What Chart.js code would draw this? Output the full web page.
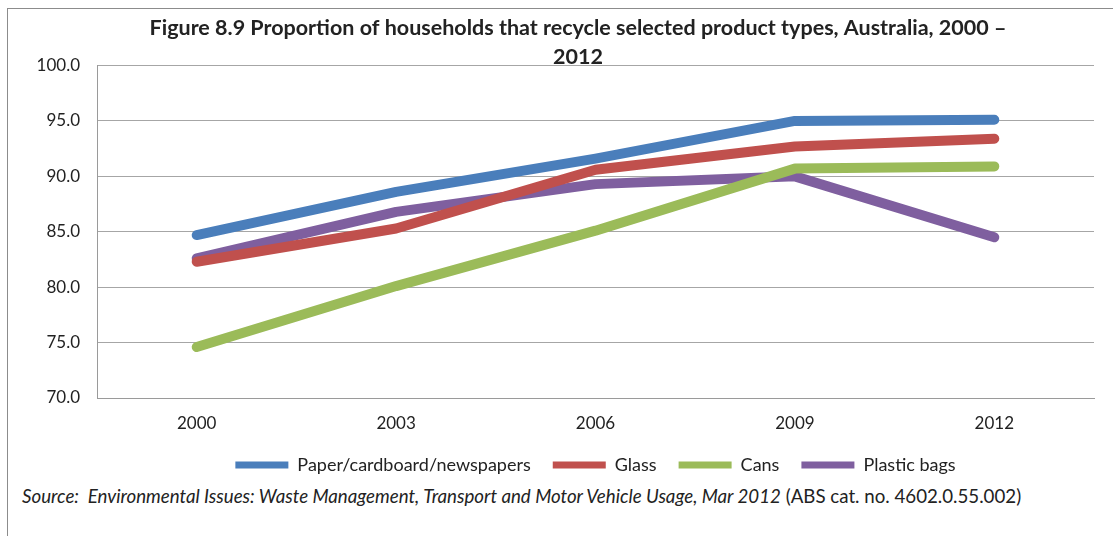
<!DOCTYPE html>
<html>
<head>
<meta charset="utf-8">
<script src="https://cdn.jsdelivr.net/npm/chart.js@4.4.1/dist/chart.umd.min.js"></script>
<style>
  html, body { margin: 0; padding: 0; background: #fff; width: 1113px; height: 536px; overflow: hidden; }
  #frame { position: absolute; left: 7px; top: 8px; width: 1200px; height: 600px; border: 1px solid #8c8c8c; }
  #wrap { position: absolute; left: 8px; top: 9px; width: 1140px; height: 475px; }
  #source { position: absolute; left: 22px; top: 485px; font-family: Lato, sans-serif; font-size: 18.7px; color: #222; white-space: nowrap; }
  #source i { font-style: italic; }
</style>
</head>
<body>
<div id="frame"></div>
<div id="wrap"><canvas id="chart"></canvas></div>
<div id="source"><i>Source:&nbsp; Environmental Issues: Waste Management, Transport and Motor Vehicle Usage, Mar 2012</i> (ABS cat. no. 4602.0.55.002)</div>
<script>
// --- data ---
const years = ['2000', '2003', '2006', '2009', '2012'];
const paper = [84.7, 88.6, 91.6, 95.0, 95.1];
const glass = [82.3, 85.3, 90.6, 92.7, 93.4];
const cans = [74.6, 80.1, 85.1, 90.7, 90.9];
const plasticBags = [82.6, 86.8, 89.3, 90.0, 84.5];
const yTicks = { min: 70, max: 100, step: 5 };

const titleLines = ['Figure 8.9 Proportion of households that recycle selected product types, Australia, 2000 \u2013', '2012'];
const FONT = 'Lato, "Open Sans", sans-serif';

function series(label, data, color) {
    return {
        label, data,
        borderColor: color, backgroundColor: color,
        borderWidth: 10, pointRadius: 0, tension: 0,
        borderCapStyle: 'round', borderJoinStyle: 'round', fill: false
    };
}

const chart = new Chart(document.getElementById('chart'), {
    type: 'line',
    data: {
        labels: years,
        datasets: [
            series('Paper/cardboard/newspapers', paper, '#4a7ebb'),
            series('Glass', glass, '#c0504d'),
            series('Cans', cans, '#9bbb59'),
            series('Plastic bags', plasticBags, '#7f5f9f')
        ]
    },
    options: {
        responsive: true, maintainAspectRatio: false, animation: false,
        devicePixelRatio: 1,
        layout: { padding: 0 },
        scales: {
            x: {
                offset: true,
                grid: { display: false, drawTicks: false },
                border: { display: true, color: '#9a9a9a', width: 1 },
                ticks: { color: '#222', font: { family: FONT, size: 17 }, padding: 15 },
                afterFit: (s) => { s.height = 36; }
            },
            y: {
                min: yTicks.min, max: yTicks.max,
                ticks: {
                    stepSize: yTicks.step, color: '#222', padding: 17,
                    font: { family: FONT, size: 17 },
                    callback: (v) => Number(v).toFixed(1)
                },
                grid: { color: '#a6a6a6', lineWidth: 1, drawTicks: false },
                border: { display: true, color: '#9a9a9a', width: 1 },
                afterFit: (s) => { s.width = 89; }
            },
            // empty right-hand margin inside the chart frame
            yRight: {
                position: 'right', display: true,
                grid: { display: false, drawTicks: false },
                border: { display: false },
                ticks: { display: false },
                afterFit: (s) => { s.width = 54; }
            }
        },
        plugins: {
            title: {
                display: true, text: titleLines, color: '#222',
                font: { family: FONT, size: 21.5, weight: 'bold', lineHeight: 1.35 },
                padding: { top: 4.5, bottom: -6 }
            },
            legend: {
                position: 'bottom', fullSize: false,
                labels: {
                    color: '#222', font: { family: FONT, size: 18 },
                    boxWidth: 53, boxHeight: 7, padding: 22,
                    useBorderRadius: true, borderRadius: 3.5,
                    generateLabels: (c) => c.data.datasets.map((d, i) => ({
                        text: d.label, fillStyle: d.borderColor, strokeStyle: d.borderColor,
                        lineWidth: 0, hidden: false, datasetIndex: i, fontColor: '#222'
                    }))
                }
            },
            tooltip: { enabled: false }
        }
    }
});
</script>
</body>
</html>
